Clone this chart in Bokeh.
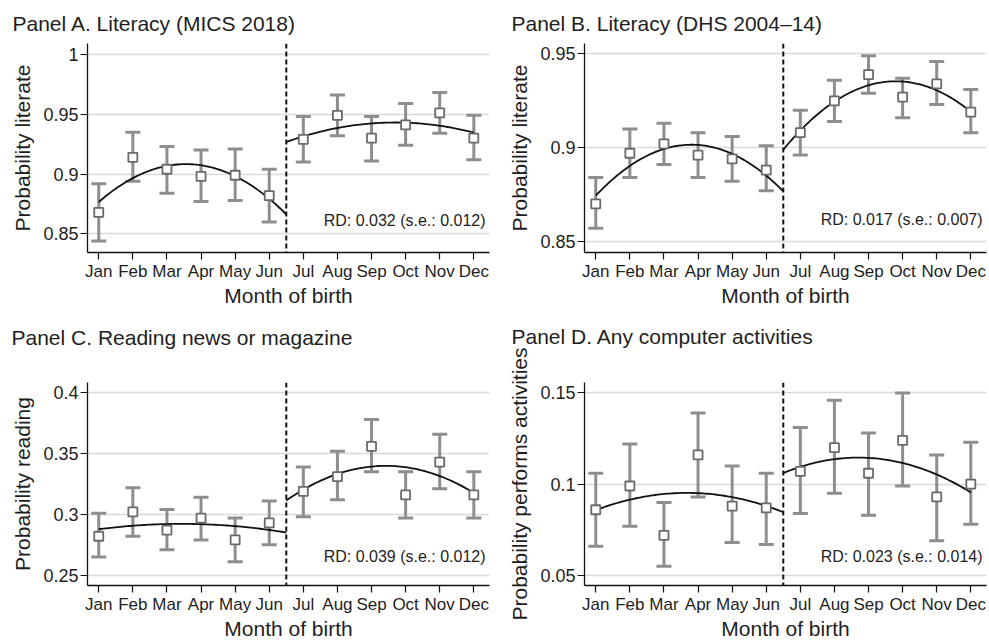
import numpy as np
from bokeh.plotting import figure
from bokeh.layouts import column, row
from bokeh.models import Span, Label, FixedTicker, Range1d, Title
from bokeh.embed import file_html
from bokeh.resources import INLINE

# Month of birth categories
months = ["Jan", "Feb", "Mar", "Apr", "May", "Jun",
          "Jul", "Aug", "Sep", "Oct", "Nov", "Dec"]
month_num = list(range(1, 13))
cutoff = 6.5

# Panel A. Literacy (MICS 2018): monthly means and 95% CI bounds
lit_mics_mean = [0.868, 0.914, 0.904, 0.898, 0.899, 0.882, 0.929, 0.949, 0.930, 0.941, 0.951, 0.930]
lit_mics_lo = [0.844, 0.894, 0.884, 0.877, 0.878, 0.860, 0.910, 0.932, 0.911, 0.924, 0.934, 0.912]
lit_mics_hi = [0.892, 0.935, 0.923, 0.920, 0.921, 0.904, 0.948, 0.966, 0.948, 0.959, 0.968, 0.949]
lit_mics_ticks = [0.85, 0.9, 0.95, 1.0]
lit_mics_labels = ["0.85", "0.9", "0.95", "1"]

# Panel B. Literacy (DHS 2004-14)
lit_dhs_mean = [0.870, 0.897, 0.902, 0.896, 0.894, 0.888, 0.908, 0.925, 0.939, 0.927, 0.934, 0.919]
lit_dhs_lo = [0.857, 0.884, 0.891, 0.884, 0.882, 0.877, 0.896, 0.914, 0.929, 0.916, 0.923, 0.908]
lit_dhs_hi = [0.884, 0.910, 0.913, 0.908, 0.906, 0.901, 0.920, 0.936, 0.949, 0.937, 0.946, 0.931]
lit_dhs_ticks = [0.85, 0.9, 0.95]
lit_dhs_labels = ["0.85", "0.9", "0.95"]

# Panel C. Reading news or magazine
read_mean = [0.282, 0.302, 0.287, 0.297, 0.279, 0.293, 0.319, 0.331, 0.356, 0.316, 0.343, 0.316]
read_lo = [0.265, 0.282, 0.271, 0.279, 0.261, 0.275, 0.298, 0.312, 0.335, 0.297, 0.321, 0.297]
read_hi = [0.301, 0.322, 0.304, 0.314, 0.297, 0.311, 0.339, 0.352, 0.378, 0.335, 0.366, 0.335]
read_ticks = [0.25, 0.3, 0.35, 0.4]
read_labels = ["0.25", "0.3", "0.35", "0.4"]

# Panel D. Any computer activities
comp_mean = [0.086, 0.099, 0.072, 0.116, 0.088, 0.087, 0.107, 0.120, 0.106, 0.124, 0.093, 0.100]
comp_lo = [0.066, 0.077, 0.055, 0.093, 0.068, 0.067, 0.084, 0.095, 0.083, 0.099, 0.069, 0.078]
comp_hi = [0.106, 0.122, 0.090, 0.139, 0.110, 0.106, 0.131, 0.146, 0.128, 0.150, 0.116, 0.123]
comp_ticks = [0.05, 0.1, 0.15]
comp_labels = ["0.05", "0.1", "0.15"]

FONT = "Liberation Sans"
TEXT = "#1e1e1e"
BAR = "#8e8e8e"
MARK = "#6a6a6a"


def panel(title, ylabel, mean, lo, hi, yticks, ylabels, yrange, rd_text, rd_y,
          width, height, borders, title_offset, title_standoff, title_gap=0):
    left, right, top, bottom = borders
    p = figure(width=width, height=height, output_backend="svg",
               toolbar_location=None, x_range=Range1d(0.67, 12.46),
               y_range=Range1d(*yrange), min_border_left=left,
               min_border_right=right, min_border_top=top,
               min_border_bottom=bottom)
    p.outline_line_color = None
    p.background_fill_color = "white"
    p.border_fill_color = "white"

    # empty band between the heading and the plot frame
    if title_gap:
        p.add_layout(Title(text=" ", text_font_size="1px",
                           standoff=title_gap), "above")

    p.title.text = title
    p.title.text_font = FONT
    p.title.text_font_size = "21px"
    p.title.text_font_style = "normal"
    p.title.text_color = TEXT
    p.title.align = "left"
    p.title.offset = title_offset
    p.title.standoff = title_standoff

    # axes
    p.xaxis.ticker = FixedTicker(ticks=month_num)
    p.xaxis.major_label_overrides = {m: lab for m, lab in zip(month_num, months)}
    p.yaxis.ticker = FixedTicker(ticks=yticks)
    p.yaxis.major_label_overrides = {t: lab for t, lab in zip(yticks, ylabels)}
    p.xaxis.axis_label = "Month of birth"
    p.yaxis.axis_label = ylabel
    for ax in (p.xaxis, p.yaxis):
        ax.axis_label_text_font = FONT
        ax.axis_label_text_font_size = "21px"
        ax.axis_label_text_font_style = "normal"
        ax.axis_label_text_color = TEXT
        ax.major_label_text_font = FONT
        ax.major_label_text_color = TEXT
        ax.axis_line_color = "#111111"
        ax.axis_line_width = 1.3
        ax.major_tick_line_color = "#111111"
        ax.major_tick_line_width = 1.2
        ax.major_tick_out = 7
        ax.major_tick_in = 0
        ax.minor_tick_line_color = None
        ax.major_label_standoff = 2
    p.xaxis.major_label_text_font_size = "17px"
    p.yaxis.major_label_text_font_size = "18px"
    p.xaxis.axis_label_standoff = 0
    p.yaxis.axis_label_standoff = 6

    p.xgrid.grid_line_color = None
    p.ygrid.grid_line_color = "#d9d9d9"
    p.ygrid.grid_line_width = 1.5

    # regression discontinuity cutoff
    p.add_layout(Span(location=cutoff, dimension="height", line_color="#111111",
                      line_width=2, line_dash="5 3"))

    # confidence intervals
    p.segment(x0=month_num, y0=lo, x1=month_num, y1=hi,
              line_color=BAR, line_width=3)
    p.scatter(month_num, lo, marker="dash", size=15, line_color=BAR, line_width=3)
    p.scatter(month_num, hi, marker="dash", size=15, line_color=BAR, line_width=3)

    # quadratic fits on each side of the cutoff
    x = np.array(month_num, dtype=float)
    y = np.array(mean, dtype=float)
    for side, grid in ((x < cutoff, np.linspace(1, cutoff, 80)),
                       (x > cutoff, np.linspace(cutoff, 12, 80))):
        coef = np.polyfit(x[side], y[side], 2)
        p.line(grid, np.polyval(coef, grid), line_color="#111111", line_width=1.8)

    # monthly means
    p.scatter(month_num, mean, marker="square", size=9, fill_color="white",
              line_color=MARK, line_width=1.8)

    p.add_layout(Label(x=12.46, y=rd_y, text=rd_text, text_align="right",
                       text_baseline="middle", x_offset=-4, text_font=FONT,
                       text_font_size="16px", text_color=TEXT))
    return p


pA = panel("Panel A. Literacy (MICS 2018)", "Probability literate",
           lit_mics_mean, lit_mics_lo, lit_mics_hi, lit_mics_ticks, lit_mics_labels,
           (0.8345, 1.009), "RD: 0.032 (s.e.: 0.012)", 0.8614,
           494, 320, (87, 5, 43, 68), -75, 17)
pB = panel("Panel B. Literacy (DHS 2004\u201314)", "Probability literate",
           lit_dhs_mean, lit_dhs_lo, lit_dhs_hi, lit_dhs_ticks, lit_dhs_labels,
           (0.844, 0.9556), "RD: 0.017 (s.e.: 0.007)", 0.8615,
           495, 320, (90, 3, 43, 68), -73, 17)
pC = panel("Panel C. Reading news or magazine", "Probability reading",
           read_mean, read_lo, read_hi, read_ticks, read_labels,
           (0.2415, 0.4085), "RD: 0.039 (s.e.: 0.012)", 0.2655,
           494, 322, (87, 5, 61, 53), -76, 0, 31)
pD = panel("Panel D. Any computer activities", "Probability performs activities",
           comp_mean, comp_lo, comp_hi, comp_ticks, comp_labels,
           (0.0445, 0.1557), "RD: 0.023 (s.e.: 0.014)", 0.0606,
           495, 322, (90, 3, 62, 53), -73, 0, 32)

layout = column(row(pA, pB), row(pC, pD))

with open("out.html", "w") as f:
    f.write(file_html(layout, INLINE, title="Month of birth and literacy"))
